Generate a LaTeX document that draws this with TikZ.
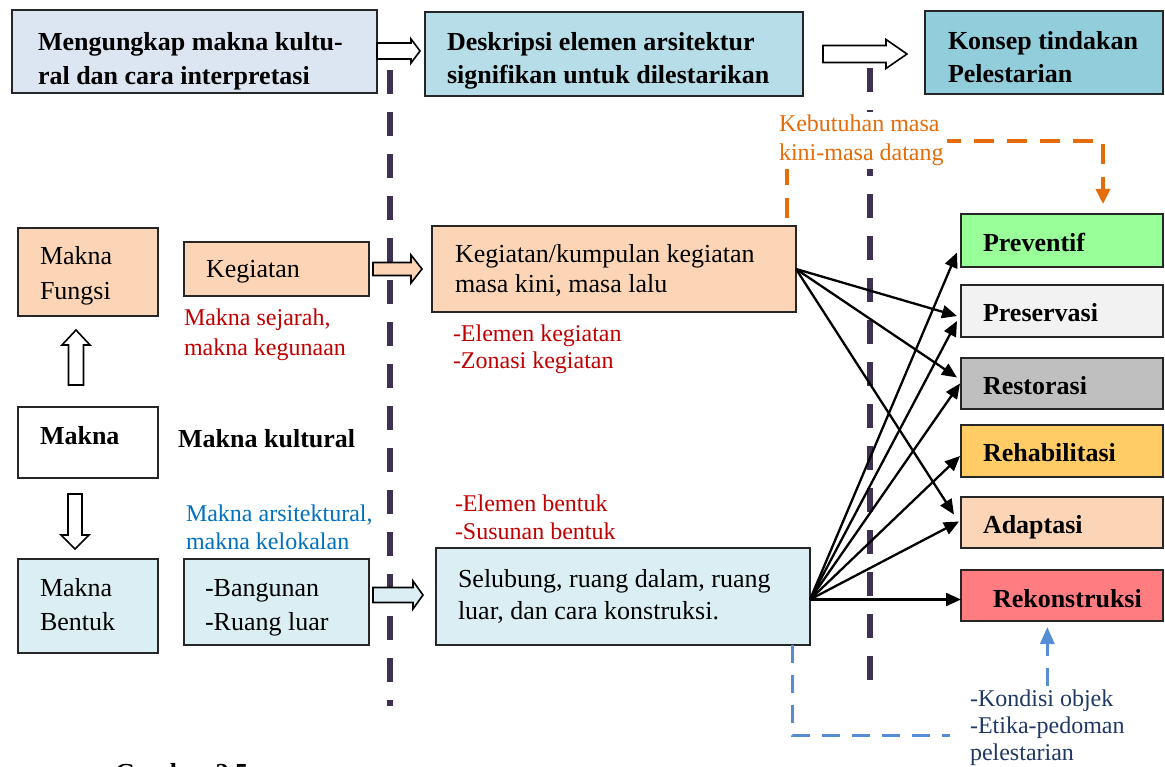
\documentclass[tikz,border=0pt]{standalone}
\usepackage{fontspec}
\setmainfont{Liberation Serif}
\usetikzlibrary{arrows.meta,calc}

\definecolor{headA}{HTML}{DCE6F2}
\definecolor{headB}{HTML}{B7DDE8}
\definecolor{headC}{HTML}{92CDDC}
\definecolor{peach}{HTML}{FBD5B5}
\definecolor{paleblue}{HTML}{DBEEF3}
\definecolor{divider}{HTML}{403152}
\definecolor{orangeline}{HTML}{E46C0A}
\definecolor{blueline}{HTML}{558ED5}
\definecolor{navytext}{HTML}{1F3864}
\definecolor{redtext}{HTML}{C00000}
\definecolor{bluetext}{HTML}{0070C0}
\definecolor{cPrev}{HTML}{99FF99}
\definecolor{cPres}{HTML}{F2F2F2}
\definecolor{cRest}{HTML}{BFBFBF}
\definecolor{cReha}{HTML}{FFCC66}
\definecolor{cRek}{HTML}{FF7C80}

\newcommand\fsz[2]{\fontsize{#1}{#2}\selectfont}

% block arrows: style, tail point, tip point, shaft half-width, head half-width, head length
\newcommand\rblock[6]{\path[#1] let \p1=#2, \p2=#3 in
  (\x1,\y1+#4) -- (\x2-#6,\y1+#4) -- (\x2-#6,\y1+#5) -- (\x2,\y1) --
  (\x2-#6,\y1-#5) -- (\x2-#6,\y1-#4) -- (\x1,\y1-#4) -- cycle;}
\newcommand\ublock[6]{\path[#1] let \p1=#2, \p2=#3 in
  (\x1+#4,\y1) -- (\x1+#4,\y2-#6) -- (\x1+#5,\y2-#6) -- (\x1,\y2) --
  (\x1-#5,\y2-#6) -- (\x1-#4,\y2-#6) -- (\x1-#4,\y1) -- cycle;}
\newcommand\dblock[6]{\path[#1] let \p1=#2, \p2=#3 in
  (\x1+#4,\y1) -- (\x1+#4,\y2+#6) -- (\x1+#5,\y2+#6) -- (\x1,\y2) --
  (\x1-#5,\y2+#6) -- (\x1-#4,\y2+#6) -- (\x1-#4,\y1) -- cycle;}

\tikzset{
  box/.style={draw=black!85, line width=1.8pt, inner sep=0pt, outer sep=0pt, anchor=north west},
  txt/.style={inner sep=0pt, outer sep=0pt, anchor=north west, align=left, font=\fsz{26}{34}},
  btxt/.style={txt, font=\fsz{26}{33}\bfseries},
  note/.style={inner sep=0pt, outer sep=0pt, anchor=north west, align=left, font=\fsz{24}{28}},
  blk/.style={draw=black, line width=1.6pt, line join=miter},
  link/.style={line width=2.3pt, -{Triangle[length=15pt,width=13pt]}},
  divline/.style={draw=divider, line width=5.5pt, dash pattern=on 24pt off 18pt},
  orangedash/.style={draw=orangeline, line width=3.5pt, dash pattern=on 20pt off 13pt},
  bluedash/.style={draw=blueline, line width=3pt, dash pattern=on 18pt off 12pt},
}

\begin{document}
\begin{tikzpicture}[x=1pt, y=-1pt]
\useasboundingbox (0,0) rectangle (1165,767);

% header row
\node[box, fill=headA, minimum width=365pt, minimum height=83pt] (t1) at (12,10) {};
\node[box, fill=headB, minimum width=378pt, minimum height=84pt] (t2) at (425,12) {};
\node[box, fill=headC, minimum width=238pt, minimum height=83pt] (t3) at (925,11) {};
\node[btxt, font=\fsz{26}{34}\bfseries] (t1l) at (38,32) {Mengungkap makna kultu-\\ral dan cara interpretasi};
\node[btxt] (t2l) at (447,32) {Deskripsi elemen arsitektur\\signifikan untuk dilestarikan};
\node[btxt] (t3l) at (948,31) {Konsep tindakan\\Pelestarian};

% left column
\node[box, fill=peach, minimum width=140pt, minimum height=88pt] (mf) at (18,228) {};
\node[box, fill=white, minimum width=140pt, minimum height=71pt] (mk) at (18,407) {};
\node[box, fill=paleblue, minimum width=140pt, minimum height=94pt] (mb) at (18,559) {};
\node[txt, font=\fsz{26}{35}] (mfl) at (40,246) {Makna\\Fungsi};
\node[btxt] (mkl) at (40,426) {Makna};
\node[txt] (mbl) at (40,578) {Makna\\Bentuk};

% second column
\node[box, fill=peach, minimum width=185pt, minimum height=54pt] (kg) at (184,242) {};
\node[box, fill=paleblue, minimum width=185pt, minimum height=86pt] (bg) at (184,559) {};
\node[txt] (kgl) at (206,260) {Kegiatan};
\node[txt] (bgl) at (205,579) {-Bangunan\\-Ruang luar};
\node[inner sep=0pt, anchor=base west, font=\fsz{26}{30}\bfseries] (kul) at (178,447) {Makna kultural};
\node[note, text=redtext, font=\fsz{24}{30}] (sej) at (184,309) {Makna sejarah,\\makna kegunaan};
\node[note, text=bluetext] (ars) at (186,505) {Makna arsitektural,\\makna kelokalan};

% third column
\node[box, fill=peach, minimum width=364pt, minimum height=86pt] (kk) at (432,226) {};
\node[box, fill=paleblue, minimum width=374pt, minimum height=97pt] (sl) at (436,548) {};
\node[txt, font=\fsz{26}{30}] (kkl) at (455,244) {Kegiatan/kumpulan kegiatan\\masa kini, masa lalu};
\node[txt, font=\fsz{26}{32}] (sll) at (458,569) {Selubung, ruang dalam, ruang\\luar, dan cara konstruksi.};
\node[note, text=redtext, font=\fsz{24}{27}] (elk) at (453,325) {-Elemen kegiatan\\-Zonasi kegiatan};
\node[note, text=redtext] (elb) at (455,495) {-Elemen bentuk\\-Susunan bentuk};

% conservation actions
\node[box, fill=cPrev, minimum width=202pt, minimum height=53pt] (pv) at (961,214) {};
\node[box, fill=cPres, minimum width=202pt, minimum height=52pt] (ps) at (961,285) {};
\node[box, fill=cRest, minimum width=202pt, minimum height=51pt] (rs) at (961,358) {};
\node[box, fill=cReha, minimum width=202pt, minimum height=52pt] (rh) at (961,425) {};
\node[box, fill=peach, minimum width=202pt, minimum height=51pt] (ad) at (961,497) {};
\node[box, fill=cRek, minimum width=202pt, minimum height=51pt] (rk) at (961,570) {};
\node[btxt] (pvl) at (983,233) {Preventif};
\node[btxt] (psl) at (983,303) {Preservasi};
\node[btxt] (rsl) at (983,376) {Restorasi};
\node[btxt] (rhl) at (983,443) {Rehabilitasi};
\node[btxt] (adl) at (983,515) {Adaptasi};
\node[btxt] (rkl) at (993,589) {Rekonstruksi};

% dashed dividers between the three stages
\coordinate (d1a) at (390,70);
\coordinate (d1b) at (390,706);
\coordinate (d2a) at (870,68);
\coordinate (d2b) at (870,688);
\draw[divline] (d1a) -- (d1b);
\draw[divline] (d2a) -- (d2b);

% block arrows
\rblock{blk, fill=white}{($(t1.east)+(0,-0.5)$)}{($(t1.east -| t2.west)+(-5,-0.5)$)}{8pt}{12pt}{9pt}
\rblock{blk, fill=white}{($(t2.east)+(20,0)$)}{($(t2.east -| t3.west)+(-18,0)$)}{8.5pt}{14.5pt}{21pt}
\rblock{blk, fill=peach}{($(kg.east)+(4,0)$)}{($(kg.east -| kk.west)+(-10,0)$)}{6.5pt}{14pt}{11pt}
\rblock{blk, fill=paleblue}{($(bg.east)+(4,-7)$)}{($(bg.east -| sl.west)+(-13,-7)$)}{7.5pt}{14pt}{10pt}
\ublock{blk, fill=white}{($(mk.north)+(-12,-22)$)}{($(mf.south)+(-12,14)$)}{7.5pt}{14pt}{15pt}
\dblock{blk, fill=white}{($(mk.south)+(-13,16)$)}{($(mb.north)+(-13,-10)$)}{7pt}{14pt}{14pt}

% orange feedback: present and future needs
\draw[orangedash, -{Triangle[length=15pt,width=14pt]}]
  ($(kk.north east)+(-9,-8)$) |- ($(pv.north)+(41,-73)$) -- ($(pv.north)+(41,-10)$);
\node[note, text=orangeline, fill=white, inner sep=3pt, font=\fsz{24}{29}] (keb) at (776,112) {Kebutuhan masa\\kini-masa datang};

% blue feedback: object condition and guidelines
\node[note, text=navytext, font=\fsz{24}{27}] (kd) at (970,690) {-Kondisi objek\\-Etika-pedoman\\pelestarian};
\draw[bluedash] ($(sl.south east)+(-18,0)$) |- ($(kd.north west)+(-20,45)$);
\draw[bluedash, -{Triangle[length=17pt,width=14pt]}] ($(kd.north)+(0,-4)$) -- ($(kd.north |- rk.south)+(0,6)$);

% links from the described elements to the actions
\coordinate (slOut) at ($(sl.east)+(0,3)$);
\draw[link] (kk.east) -- ($(ps.west)+(-4,5)$);
\draw[link] (kk.east) -- ($(rs.west)+(-4,-6)$);
\draw[link] (kk.east) -- ($(ad.west)+(-7,-8)$);
\draw[link] (slOut) -- ($(pv.west)+(-4,12)$);
\draw[link] (slOut) -- ($(ps.west)+(-4,10)$);
\draw[link] (slOut) -- ($(rs.west)+(-1,0)$);
\draw[link] (slOut) -- ($(rh.west)+(-1,5)$);
\draw[link] (slOut) -- ($(ad.west)+(-2,-1)$);
\draw[link] (slOut) -- (slOut -| rk.west);

% caption, running off the lower edge
\begin{scope}
\clip (0,0) rectangle (1165,767);
\node[inner sep=0pt, anchor=base west, font=\fsz{26}{30}\bfseries] (cap) at (115,781) {Gambar 2.5};
\end{scope}
\end{tikzpicture}
\end{document}
